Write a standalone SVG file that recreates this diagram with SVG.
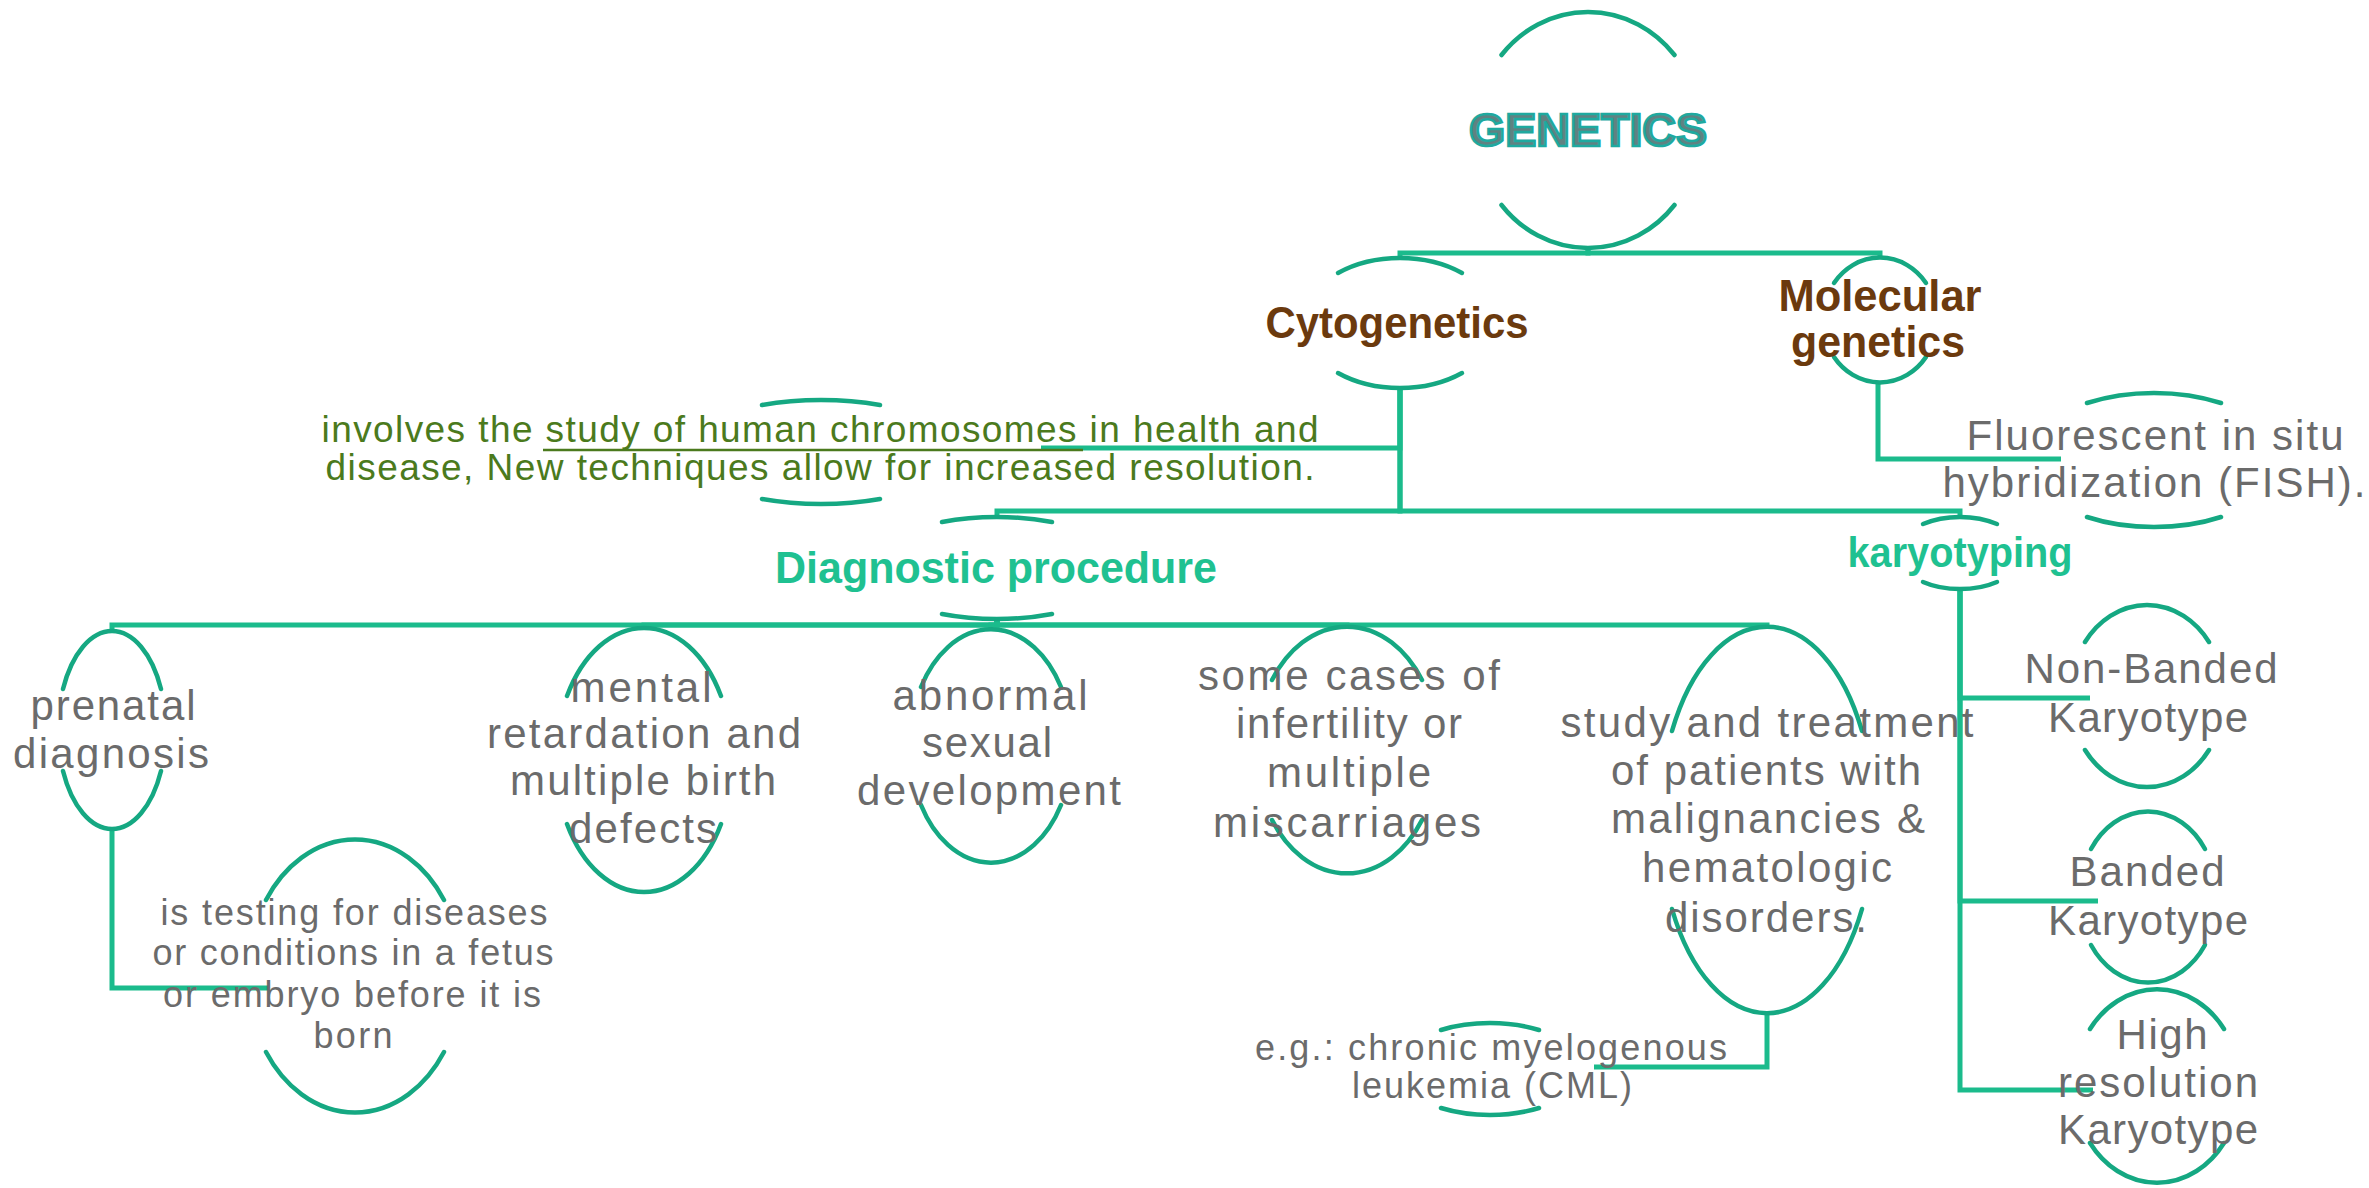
<svg xmlns="http://www.w3.org/2000/svg" width="2369" height="1188" viewBox="0 0 2369 1188">
<style>
.arc{fill:none;stroke:#15a882;stroke-width:4.5;stroke-linecap:round}
.con{fill:none;stroke:#1bbb8c;stroke-width:5;stroke-linejoin:miter}
.ul{stroke:#4b7a1d;stroke-width:2.5}
text{font-family:"Liberation Sans",Arial,sans-serif;text-anchor:middle}
.g{fill:#6b6b6b;font-size:42px}
.gs{fill:#6b6b6b;font-size:36px}
.br{fill:#6b3a0e;font-size:45px;font-weight:bold}
.tl{fill:#1fc191;font-size:44px;font-weight:bold}
.gr{fill:#4b7a1d;font-size:37px}
.top{fill:#5f8282;stroke:#1fa99f;stroke-width:2.6;font-size:46px;font-weight:bold}
</style>
<rect width="2369" height="1188" fill="#ffffff"/>
<g id="connectors">
<path class="con" d="M1588,248 V253 H1400 V258"/>
<path class="con" d="M1588,248 V253 H1880 V258"/>
<path class="con" d="M1400,388 V448 H1041"/>
<path class="con" d="M1400,388 V511 H997 V517"/>
<path class="con" d="M1400,388 V511 H1960 V517"/>
<path class="con" d="M1878,382 V459 H2061"/>
<path class="con" d="M997,619 V625 H112 V630"/>
<path class="con" d="M997,619 V625 H644 V628"/>
<path class="con" d="M997,619 V625 H991 V630"/>
<path class="con" d="M997,619 V625 H1347 V627"/>
<path class="con" d="M997,619 V625 H1767 V627"/>
<path class="con" d="M112,830 V988 H268"/>
<path class="con" d="M1767,1013 V1067 H1594"/>
<path class="con" d="M1960,589 V698 H2090"/>
<path class="con" d="M1960,589 V901 H2098"/>
<path class="con" d="M1960,589 V1090 H2093"/>
</g>
<g id="node-genetics">
<path class="arc" d="M1501.5,55 A112,118 0 0 1 1674.5,55 M1501.5,205 A112,118 0 0 0 1674.5,205"/>
<text class="top" x="1588" y="146" textLength="238" lengthAdjust="spacingAndGlyphs">GENETICS</text>
</g>
<g id="node-cytogenetics">
<path class="arc" d="M1338,273 A97,65 0 0 1 1462,273 M1338,373 A97,65 0 0 0 1462,373"/>
<text class="br" x="1397" y="338" textLength="263" lengthAdjust="spacingAndGlyphs">Cytogenetics</text>
</g>
<g id="node-molecular">
<path class="arc" d="M1834,283 A57,62 0 0 1 1926,283 M1834,357 A57,62 0 0 0 1926,357"/>
<text class="br" x="1880" y="311" textLength="203" lengthAdjust="spacingAndGlyphs">Molecular</text>
<text class="br" x="1878" y="357" textLength="174" lengthAdjust="spacingAndGlyphs">genetics</text>
</g>
<g id="node-involves">
<path class="arc" d="M762,405 A138,52 0 0 1 880,405 M762,499 A138,52 0 0 0 880,499"/>
<text class="gr" x="820" y="442" textLength="997">involves the study of human chromosomes in health and</text>
<line class="ul" x1="543" y1="450" x2="1083" y2="450"/>
<text class="gr" x="820" y="480" textLength="989">disease, New techniques allow for increased resolution.</text>
</g>
<g id="node-diagnostic">
<path class="arc" d="M942,522 A127,51 0 0 1 1052,522 M942,614 A127,51 0 0 0 1052,614"/>
<text class="tl" x="996" y="583" textLength="442" lengthAdjust="spacingAndGlyphs">Diagnostic procedure</text>
</g>
<g id="node-fish">
<path class="arc" d="M2087,403 A127,67 0 0 1 2221,403 M2087,517 A127,67 0 0 0 2221,517"/>
<text class="g" x="2155" y="450" textLength="377">Fluorescent in situ</text>
<text class="g" x="2154" y="497" textLength="423">hybridization (FISH).</text>
</g>
<g id="node-karyotyping">
<path class="arc" d="M1923,524 A62,36 0 0 1 1997,524 M1923,582 A62,36 0 0 0 1997,582"/>
<text class="tl" style="font-size:42px" x="1960" y="567" textLength="225" lengthAdjust="spacingAndGlyphs">karyotyping</text>
</g>
<g id="node-nonbanded">
<path class="arc" d="M2085,642 A77,91 0 0 1 2209,642 M2085,750 A77,91 0 0 0 2209,750"/>
<text class="g" x="2151" y="683" textLength="253">Non-Banded</text>
<text class="g" x="2148" y="732" textLength="200">Karyotype</text>
</g>
<g id="node-banded">
<path class="arc" d="M2091,849 A69,86 0 0 1 2205,849 M2091,945 A69,86 0 0 0 2205,945"/>
<text class="g" x="2147" y="886" textLength="155">Banded</text>
<text class="g" x="2148" y="935" textLength="200">Karyotype</text>
</g>
<g id="node-highres">
<path class="arc" d="M2090,1029 A83,97 0 0 1 2224,1029 M2090,1143 A83,97 0 0 0 2224,1143"/>
<text class="g" x="2162" y="1049" textLength="91">High</text>
<text class="g" x="2158" y="1097" textLength="200">resolution</text>
<text class="g" x="2158" y="1144" textLength="200">Karyotype</text>
</g>
<g id="node-prenatal">
<path class="arc" d="M63,689 A54,100 0 0 1 161,689 M63,771 A54,100 0 0 0 161,771"/>
<text class="g" x="113" y="720" textLength="165">prenatal</text>
<text class="g" x="111" y="768" textLength="196">diagnosis</text>
</g>
<g id="node-testing">
<path class="arc" d="M266,900 A107,136 0 0 1 444,900 M266,1052 A107,136 0 0 0 444,1052"/>
<text class="gs" x="354" y="925" textLength="387">is testing for diseases</text>
<text class="gs" x="353" y="965" textLength="401">or conditions in a fetus</text>
<text class="gs" x="352" y="1007" textLength="378">or embryo before it is</text>
<text class="gs" x="353" y="1048" textLength="79">born</text>
</g>
<g id="node-mental">
<path class="arc" d="M567,696 A88,132 0 0 1 721,696 M567,824 A88,132 0 0 0 721,824"/>
<text class="g" x="641" y="702" textLength="141">mental</text>
<text class="g" x="644" y="748" textLength="314">retardation and</text>
<text class="g" x="643" y="795" textLength="266">multiple birth</text>
<text class="g" x="643" y="843" textLength="148">defects</text>
</g>
<g id="node-abnormal">
<path class="arc" d="M921,687 A81,116 0 0 1 1061,687 M921,805 A81,116 0 0 0 1061,805"/>
<text class="g" x="990" y="710" textLength="195">abnormal</text>
<text class="g" x="987" y="757" textLength="130">sexual</text>
<text class="g" x="989" y="805" textLength="264">development</text>
</g>
<g id="node-infertility">
<path class="arc" d="M1272,680 A91,123 0 0 1 1422,680 M1272,820 A91,123 0 0 0 1422,820"/>
<text class="g" x="1349" y="690" textLength="302">some cases of</text>
<text class="g" x="1349" y="738" textLength="226">infertility or</text>
<text class="g" x="1349" y="787" textLength="164">multiple</text>
<text class="g" x="1347" y="837" textLength="268">miscarriages</text>
</g>
<g id="node-study">
<path class="arc" d="M1672,731 A107,193 0 0 1 1862,731 M1672,909 A107,193 0 0 0 1862,909"/>
<text class="g" x="1767" y="737" textLength="413">study and treatment</text>
<text class="g" x="1766" y="785" textLength="310">of patients with</text>
<text class="g" x="1768" y="833" textLength="314">malignancies &amp;</text>
<text class="g" x="1767" y="882" textLength="250">hematologic</text>
<text class="g" x="1766" y="932" textLength="202">disorders.</text>
</g>
<g id="node-cml">
<path class="arc" d="M1441,1030 A93,46 0 0 1 1539,1030 M1441,1108 A93,46 0 0 0 1539,1108"/>
<text class="gs" x="1491" y="1060" textLength="472">e.g.: chronic myelogenous</text>
<text class="gs" x="1492" y="1098" textLength="280">leukemia (CML)</text>
</g>
</svg>
